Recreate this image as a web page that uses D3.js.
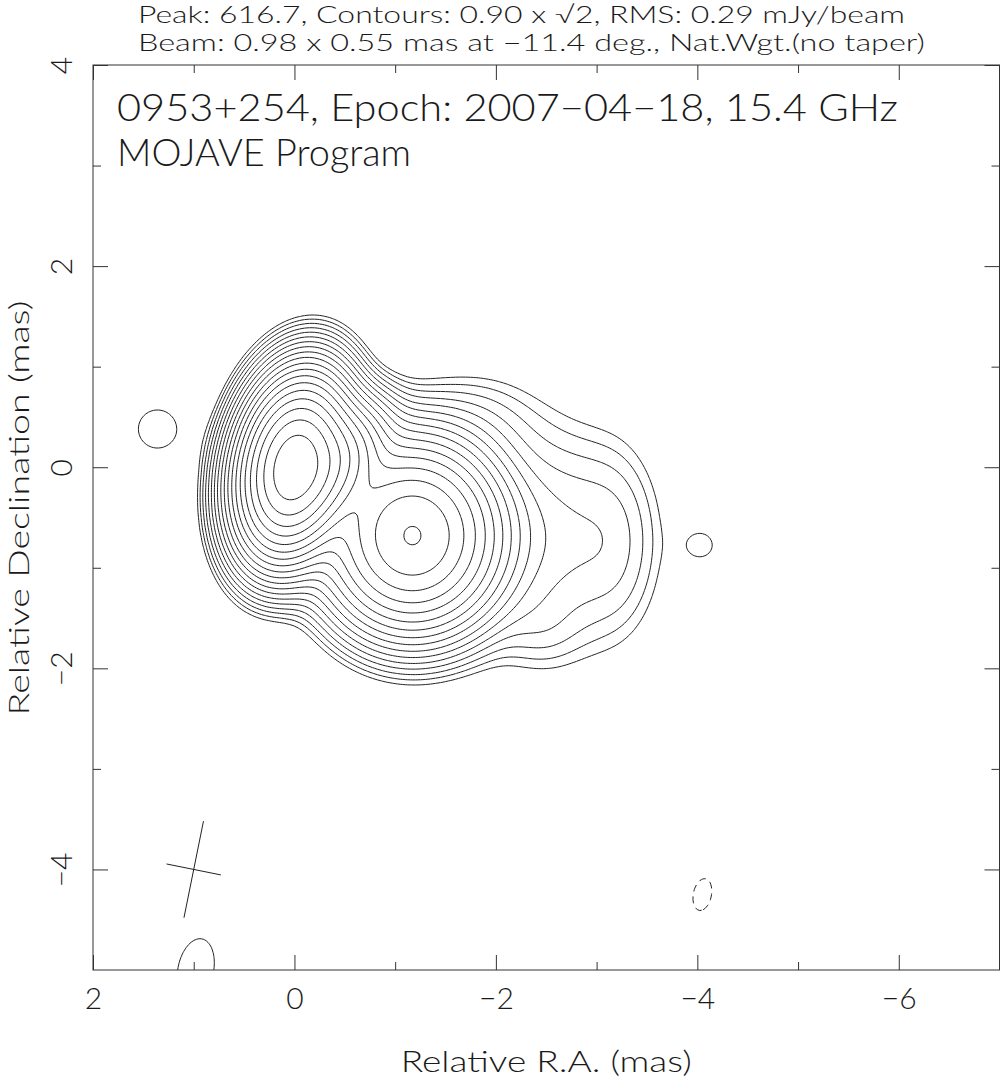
<!DOCTYPE html>
<html>
<head>
<meta charset="utf-8">
<script src="https://cdn.jsdelivr.net/npm/d3@7"></script>
<style>
body { margin: 0; background: #fff; }
text { font-family: Lato, "Open Sans", "DejaVu Sans", sans-serif; font-weight: 300; fill: #1a1a1a; }
</style>
</head>
<body>
<div id="map"></div>
<script>
// image-plane gaussian components (mas, mJy/beam, FWHM mas, PA deg)
// core, inner jet, C2, north, west x2, south bump, east blob, west blob, bottom arc, negative
const compRA   = [0.01, -0.45, -1.17, -1.80, -2.55, -3.20, -2.45, 1.36, -4.05, 0.98, -4.05];
const compDec  = [0.00,  0.05, -0.68,  0.45, -0.72, -0.75, -1.60, 0.38, -0.775, -5.00, -4.25];
const compPeak = [605, 95, 166, 1.5, 3.8, 1.2, 0.85, 1.25, 0.97, 1.2, -0.97];
const compMaj  = [1.00, 0.75, 1.08, 1.00, 1.60, 1.40, 0.60, 0.55, 0.40, 0.98, 0.98];
const compMin  = [0.60, 0.50, 1.00, 0.80, 1.35, 0.60, 0.60, 0.55, 0.40, 0.55, 0.55];
const compPA   = [-11.4, -30, 0, 90, 0, 0, 0, 0, 0, -11.4, -11.4];

// contour levels: 0.90 mJy/beam x sqrt(2)^n
const levels = [0.9, 1.27, 1.8, 2.55, 3.6, 5.09, 7.2, 10.18, 14.4, 20.36, 28.8, 40.73,
                57.6, 81.46, 115.2, 162.9, 230.4, 325.8, 460.8];
const negLevels = [0.9];

// restoring beam
const beamMaj = 0.98, beamMin = 0.55, beamPA = -11.4;
const beamRA = 1.0, beamDec = -4.0;

const xTicks = [2, 0, -2, -4, -6];
const xMinor = [1, -1, -3, -5];
const yTicks = [4, 2, 0, -2, -4];
const yMinor = [3, 1, -1, -3];

const headerLines = ["Peak: 616.7, Contours: 0.90 x \u221A2, RMS: 0.29 mJy/beam",
                     "Beam: 0.98 x 0.55 mas at \u221211.4 deg., Nat.Wgt.(no taper)"];
const titleLines = ["0953+254, Epoch: 2007\u221204\u221218, 15.4 GHz", "MOJAVE Program"];

const width = 1001, height = 1079;
const box = {left: 93, right: 999.5, top: 65, bottom: 970};

const svg = d3.select("#map").append("svg")
    .attr("width", width)
    .attr("height", height);

const x = d3.scaleLinear().domain([2, -7]).range([box.left, box.right]);
const y = d3.scaleLinear().domain([4, -5]).range([box.top, box.bottom]);

// build the grid
const step = 0.025;
const gx0 = 2.4, gy0 = 4.4;
const nx = Math.round((gx0 - (-7.4)) / step), ny = Math.round((gy0 - (-5.7)) / step);
const k = 4 * Math.LN2;
const field = new Float64Array(nx * ny);
for (let j = 0; j < ny; j++) {
    const dec = gy0 - j * step;
    for (let i = 0; i < nx; i++) {
        const ra = gx0 - i * step;
        let v = 0;
        for (let c = 0; c < compRA.length; c++) {
            const dx = ra - compRA[c], dy = dec - compDec[c];
            const pa = compPA[c] * Math.PI / 180;
            const u = dx * Math.sin(pa) + dy * Math.cos(pa);
            const w = dx * Math.cos(pa) - dy * Math.sin(pa);
            v += compPeak[c] * Math.exp(-k * (u * u / (compMaj[c] * compMaj[c]) + w * w / (compMin[c] * compMin[c])));
        }
        field[j * nx + i] = v;
    }
}

const toPlot = d3.geoTransform({
    point: function(px, py) {
        this.stream.point(x(gx0 - (px - 0.5) * step), y(gy0 - (py - 0.5) * step));
    }
});
const path = d3.geoPath(toPlot);

svg.append("clipPath").attr("id", "clip")
  .append("rect")
    .attr("x", box.left).attr("y", box.top)
    .attr("width", box.right - box.left).attr("height", box.bottom - box.top);

const plot = svg.append("g").attr("clip-path", "url(#clip)");

const contours = d3.contours().size([nx, ny]).thresholds(levels)(field);
plot.selectAll(".pos")
    .data(contours)
    .enter().append("path")
    .attr("class", "pos")
    .attr("d", path)
    .attr("fill", "none")
    .attr("stroke", "#222")
    .attr("stroke-width", 1);

const negField = field.map(v => -v);
const negContours = d3.contours().size([nx, ny]).thresholds(negLevels)(negField);
plot.selectAll(".neg")
    .data(negContours)
    .enter().append("path")
    .attr("class", "neg")
    .attr("d", path)
    .attr("fill", "none")
    .attr("stroke", "#222")
    .attr("stroke-width", 1)
    .attr("stroke-dasharray", "7,5");

// beam cross
const bpa = beamPA * Math.PI / 180;
const beamLines = [
    [[beamRA + 0.5 * beamMaj * Math.sin(bpa), beamDec + 0.5 * beamMaj * Math.cos(bpa)],
     [beamRA - 0.5 * beamMaj * Math.sin(bpa), beamDec - 0.5 * beamMaj * Math.cos(bpa)]],
    [[beamRA + 0.5 * beamMin * Math.cos(bpa), beamDec - 0.5 * beamMin * Math.sin(bpa)],
     [beamRA - 0.5 * beamMin * Math.cos(bpa), beamDec + 0.5 * beamMin * Math.sin(bpa)]]
];
plot.selectAll(".beam")
    .data(beamLines)
    .enter().append("line")
    .attr("x1", d => x(d[0][0])).attr("y1", d => y(d[0][1]))
    .attr("x2", d => x(d[1][0])).attr("y2", d => y(d[1][1]))
    .attr("stroke", "#222").attr("stroke-width", 1);

// frame
svg.append("rect")
    .attr("x", box.left).attr("y", box.top)
    .attr("width", box.right - box.left).attr("height", box.bottom - box.top)
    .attr("fill", "none").attr("stroke", "#333").attr("stroke-width", 1);

// inward ticks on all sides
function ticks(axis, vals, size, transform, labels) {
    const g = svg.append("g")
        .attr("transform", transform)
        .call(axis.tickValues(vals).tickSize(size).tickPadding(labels ? 18 : 0)
            .tickFormat(labels ? d3.format("d") : ""));
    g.select(".domain").remove();
    g.selectAll("line").attr("stroke", "#333");
    g.selectAll("text").style("font-size", "30px").attr("fill", "#1a1a1a");
    return g;
}
ticks(d3.axisBottom(x), xTicks, -15, `translate(0,${box.bottom})`, true);
ticks(d3.axisBottom(x), xMinor, -8, `translate(0,${box.bottom})`, false);
ticks(d3.axisTop(x), xTicks, -15, `translate(0,${box.top})`, false);
ticks(d3.axisTop(x), xMinor, -8, `translate(0,${box.top})`, false);
const yl = ticks(d3.axisLeft(y), yTicks, -15, `translate(${box.left},0)`, true);
ticks(d3.axisLeft(y), yMinor, -8, `translate(${box.left},0)`, false);
ticks(d3.axisRight(y), yTicks, -15, `translate(${box.right},0)`, false);
ticks(d3.axisRight(y), yMinor, -8, `translate(${box.right},0)`, false);

yl.selectAll("text")
    .attr("x", null).attr("dy", null)
    .attr("text-anchor", "middle")
    .attr("transform", "translate(-21,0) rotate(-90)");

// texts
svg.selectAll(".header")
    .data(headerLines)
    .enter().append("text")
    .attr("x", 138)
    .attr("y", (d, i) => 23 + i * 28)
    .attr("textLength", (d, i) => [767, 787][i])
    .attr("lengthAdjust", "spacingAndGlyphs")
    .style("font-size", "23px")
    .text(d => d);

svg.selectAll(".title")
    .data(titleLines)
    .enter().append("text")
    .attr("x", 117)
    .attr("y", (d, i) => 121 + i * 45)
    .attr("textLength", (d, i) => [781, 294][i])
    .attr("lengthAdjust", "spacingAndGlyphs")
    .style("font-size", "37px")
    .text(d => d);

svg.append("text")
    .attr("x", (box.left + box.right) / 2)
    .attr("y", 1072)
    .attr("text-anchor", "middle")
    .attr("textLength", 291)
    .attr("lengthAdjust", "spacingAndGlyphs")
    .style("font-size", "30px")
    .text("Relative R.A. (mas)");

svg.append("text")
    .attr("transform", "translate(29,508) rotate(-90)")
    .attr("text-anchor", "middle")
    .attr("textLength", 415)
    .attr("lengthAdjust", "spacingAndGlyphs")
    .style("font-size", "28px")
    .text("Relative Declination (mas)");
</script>
</body>
</html>
